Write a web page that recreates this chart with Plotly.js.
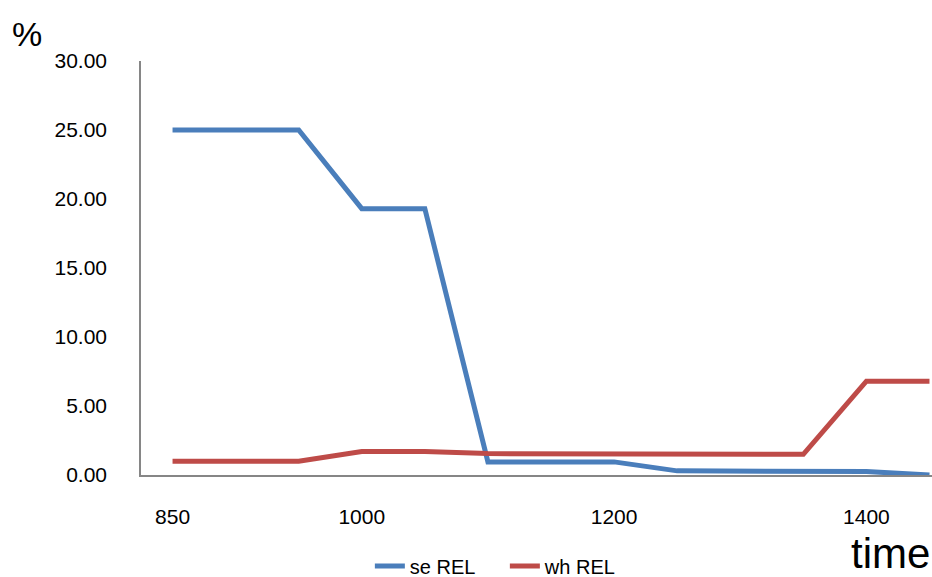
<!DOCTYPE html>
<html>
<head>
<meta charset="utf-8">
<script src="https://cdn.plot.ly/plotly-3.0.1.min.js"></script>
<style>html,body{margin:0;padding:0;background:#fff;}#chart{width:932px;height:577px;}</style>
</head>
<body>
<div id="chart"></div>
<script>
const years = [850, 950, 1000, 1050, 1100, 1150, 1200, 1250, 1300, 1350, 1400, 1450];
const seREL = [25.0, 25.0, 19.3, 19.3, 0.95, 0.95, 0.95, 0.3, 0.3, 0.3, 0.25, 0.0];
const whREL = [1.0, 1.0, 1.7, 1.7, 1.55, 1.55, 1.55, 1.5, 1.5, 1.5, 6.8, 6.8];
const xTicks = [850, 1000, 1200, 1400];
const yTicks = [0, 5, 10, 15, 20, 25, 30];
const yTickText = yTicks.map(v => v.toFixed(2));

const font = "Liberation Sans, Arial, sans-serif";
const traces = [
  {x: years, y: seREL, name: 'se REL', type: 'scatter', mode: 'lines',
   line: {color: '#4A7EBB', width: 5}},
  {x: years, y: whREL, name: 'wh REL', type: 'scatter', mode: 'lines',
   line: {color: '#BE4B48', width: 5}}
];
const layout = {
  width: 932, height: 577,
  margin: {l: 141, r: 0, t: 61, b: 102, autoexpand: false},
  paper_bgcolor: '#fff', plot_bgcolor: '#fff',
  font: {family: font, size: 20, color: '#000'},
  showlegend: true,
  legend: {orientation: 'h', x: 0.46, xanchor: 'center', y: -0.22, yanchor: 'middle',
           entrywidth: 90, font: {family: font, size: 20, color: '#000'}},
  xaxis: {range: [825, 1452], tickvals: xTicks, ticktext: xTicks.map(String),
          showgrid: false, zeroline: false, showline: true, linecolor: '#868686', linewidth: 1.5,
          ticks: '', ticklabelstandoff: 22, tickfont: {family: font, size: 21}},
  yaxis: {range: [0, 30], tickvals: yTicks, ticktext: yTickText,
          showgrid: false, zeroline: false, showline: true, linecolor: '#868686', linewidth: 1.5,
          ticks: '', ticklabelstandoff: 28, tickfont: {family: font, size: 21}},
  annotations: [
    {text: '%', xref: 'paper', yref: 'paper', x: -0.144, y: 1.065, xanchor: 'center', yanchor: 'middle',
     showarrow: false, font: {family: font, size: 34, color: '#000'}},
    {text: 'time', xref: 'paper', yref: 'paper', x: 1.0, y: -0.19, xanchor: 'right', yanchor: 'middle',
     showarrow: false, font: {family: font, size: 42, color: '#000'}}
  ]
};
Plotly.newPlot('chart', traces, layout, {displayModeBar: false});
</script>
</body>
</html>
